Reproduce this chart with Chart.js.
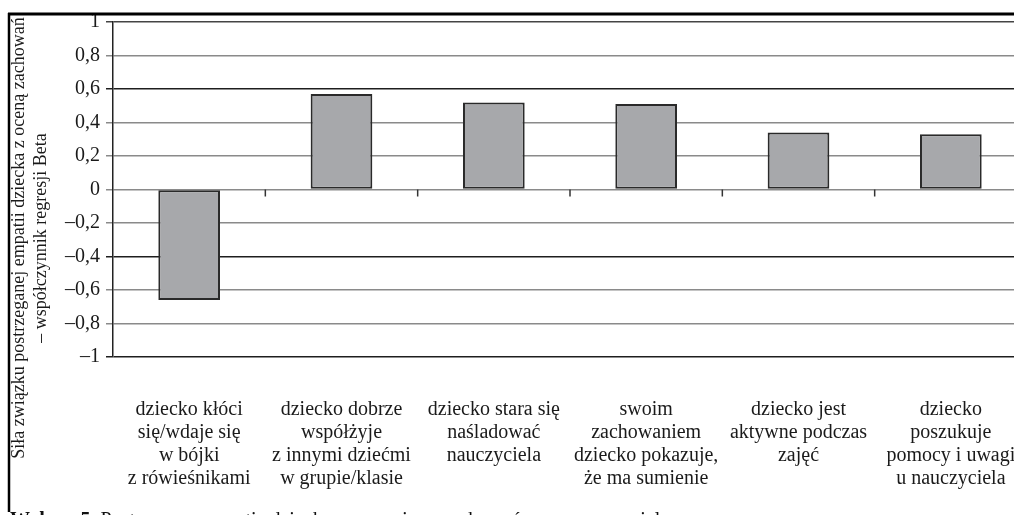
<!DOCTYPE html>
<html>
<head>
<meta charset="utf-8">
<script src="https://cdn.jsdelivr.net/npm/chart.js@4.4.0/dist/chart.umd.min.js"></script>
<style>
  html, body { margin: 0; padding: 0; background: #fff; overflow: hidden; }
  #chart { position: absolute; left: 0; top: 0; }
</style>
</head>
<body>
<canvas id="chart" width="1047" height="515"></canvas>
<script>
// categories (multi-line labels) and regression Beta values
const categories = [
    ['dziecko kłóci', 'się/wdaje się', 'w bójki', 'z rówieśnikami'],
    ['dziecko dobrze', 'współżyje', 'z innymi dziećmi', 'w grupie/klasie'],
    ['dziecko stara się', 'naśladować', 'nauczyciela'],
    ['swoim', 'zachowaniem', 'dziecko pokazuje,', 'że ma sumienie'],
    ['dziecko jest', 'aktywne podczas', 'zajęć'],
    ['dziecko', 'poszukuje', 'pomocy i uwagi', 'u nauczyciela']
];
const betaValues = [-0.66, 0.57, 0.52, 0.51, 0.34, 0.33];
const yTitle = ['Siła związku postrzeganej empatii dziecka z oceną zachowań', '– współczynnik regresji Beta'];
const caption = ['Wykres 5.', ' Postrzegana empatia dziecka a ocena jego zachowań przez nauczyciela'];

const serif = "'Liberation Serif', 'Times New Roman', serif";

const fmtTick = (v) => {
    const a = Math.round(Math.abs(v) * 10) / 10;
    return (v < -0.001 ? '\u2013' : '') + String(a).replace('.', ',');
};

const gridColor = (ctx) => {
    const v = Math.round((ctx.tick?.value ?? 0) * 10) / 10;
    if (v === 0.6 || v === -0.4 || v === -1) return '#1e1e1e';
    if (v === 1) return '#444';
    return '#8a8a8a';
};

const framePlugin = {
    id: 'frame',
    afterDraw(chart) {
        const {ctx, scales: {x, y}} = chart;
        ctx.save();
        // category ticks on the zero line
        const y0 = y.getPixelForValue(0);
        ctx.strokeStyle = '#333';
        ctx.lineWidth = 1.5;
        for (let i = 1; i < categories.length; i++) {
            const px = (x.getPixelForValue(i - 1) + x.getPixelForValue(i)) / 2;
            ctx.beginPath();
            ctx.moveTo(px, y0);
            ctx.lineTo(px, y0 + 7);
            ctx.stroke();
        }
        // y axis title, two rotated lines
        ctx.save();
        ctx.translate(0, 238);
        ctx.rotate(-Math.PI / 2);
        ctx.fillStyle = '#1a1a1a';
        ctx.font = `18px ${serif}`;
        ctx.textAlign = 'center';
        ctx.textBaseline = 'middle';
        ctx.fillText(yTitle[0], 0, 19);
        ctx.fillText(yTitle[1], 0, 41);
        ctx.restore();
        // page frame
        ctx.fillStyle = '#fff';
        ctx.fillRect(0, 0, chart.width, 13);
        ctx.strokeStyle = '#000';
        ctx.lineWidth = 3;
        ctx.beginPath();
        ctx.moveTo(8, 14);
        ctx.lineTo(chart.width, 14);
        ctx.stroke();
        ctx.lineWidth = 2.5;
        ctx.beginPath();
        ctx.moveTo(9, 13);
        ctx.lineTo(9, 512);
        ctx.stroke();
        // caption (cut by the page edge)
        ctx.fillStyle = '#111';
        ctx.textAlign = 'left';
        ctx.textBaseline = 'alphabetic';
        ctx.font = `bold 20px ${serif}`;
        ctx.fillText(caption[0], 10, 526);
        const w = ctx.measureText(caption[0]).width;
        ctx.font = `20px ${serif}`;
        ctx.fillText(caption[1], 10 + w, 526);
        ctx.restore();
    }
};

new Chart(document.getElementById('chart'), {
    type: 'bar',
    data: {
        labels: categories,
        datasets: [{
            data: betaValues,
            backgroundColor: '#a7a8ab',
            borderColor: '#2a2a2a',
            borderWidth: 2,
            borderSkipped: false,
            barPercentage: 0.405,
            categoryPercentage: 1
        }]
    },
    options: {
        responsive: false,
        animation: false,
        devicePixelRatio: 1,
        layout: {padding: {left: 8, top: 22, right: 20, bottom: 0}},
        plugins: {legend: {display: false}, tooltip: {enabled: false}},
        scales: {
            x: {
                afterFit: (s) => {
                    s.height = 158;
                    s.paddingLeft = 0;
                    s.paddingRight = 0;
                },
                grid: {display: false, drawTicks: false},
                border: {display: false},
                ticks: {
                    color: '#1a1a1a',
                    font: {family: serif, size: 20, lineHeight: 23 / 20},
                    padding: 41,
                    maxRotation: 0,
                    autoSkip: false
                }
            },
            y: {
                min: -1,
                max: 1,
                afterFit: (s) => { s.width = 105; },
                ticks: {
                    stepSize: 0.2,
                    color: '#1a1a1a',
                    font: {family: serif, size: 20},
                    padding: 6,
                    callback: fmtTick
                },
                grid: {color: gridColor, lineWidth: 1.5, tickLength: 7, drawTicks: true},
                border: {display: true, color: '#222', width: 1.5}
            }
        }
    },
    plugins: [framePlugin]
});
</script>
</body>
</html>
